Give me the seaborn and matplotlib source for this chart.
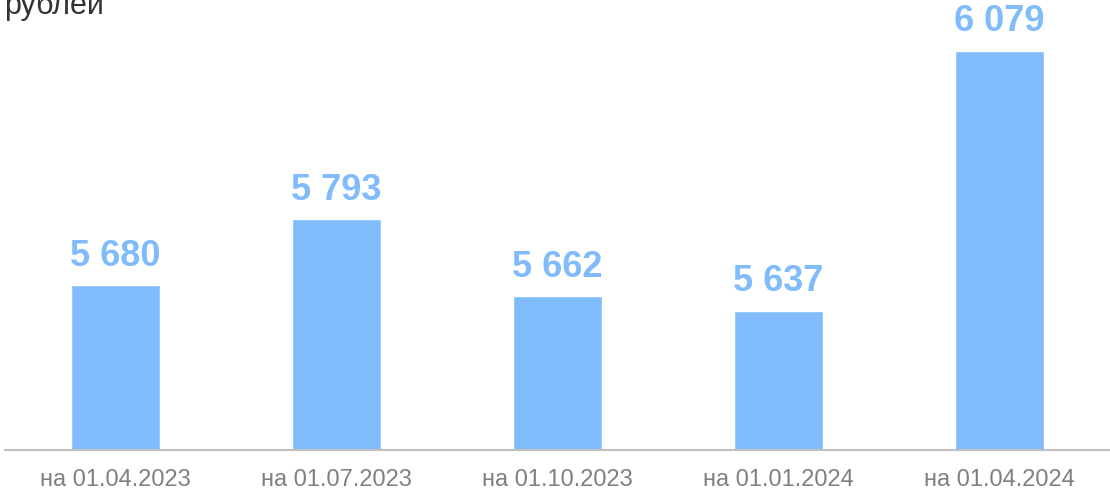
import pandas as pd
import matplotlib.pyplot as plt
import seaborn as sns

# данные
dates = ["на 01.04.2023", "на 01.07.2023", "на 01.10.2023", "на 01.01.2024", "на 01.04.2024"]
values = [5680, 5793, 5662, 5637, 6079]

df = pd.DataFrame({"date": dates, "value": values})

sns.set_style("white")
plt.rcParams["font.family"] = ["Liberation Sans", "DejaVu Sans"]

bar_color = "#80BBFC"

fig = plt.figure(figsize=(11.1, 4.92), dpi=100)
ax = fig.add_axes([5 / 1110, 42 / 492, 1105 / 1110, 450 / 492])

sns.barplot(data=df, x="date", y="value", color=bar_color, width=0.4,
            saturation=1, ax=ax)

ax.set_xlim(-0.5, 4.5)
ax.set_ylim(5400, 6165)

# подписи значений
for i, v in enumerate(values):
    ax.annotate(f"{v:,}".replace(",", " "), (i, v), xytext=(0, 8),
                textcoords="offset points", ha="center", va="bottom",
                fontsize=26, fontweight="bold", color=bar_color)

ax.set_xlabel("")
ax.set_ylabel("")
ax.set_yticks([])
ax.tick_params(axis="x", length=0, labelsize=17, labelcolor="#808080", pad=14)

for s in ["top", "right", "left"]:
    ax.spines[s].set_visible(False)
ax.spines["bottom"].set_color("#BFBFBF")
ax.spines["bottom"].set_linewidth(1.5)

fig.text(4 / 1110, 1 - 14 / 492, "рублей", fontsize=22, color="#333333",
         ha="left", va="baseline")

fig.savefig("out.png", dpi=100)
